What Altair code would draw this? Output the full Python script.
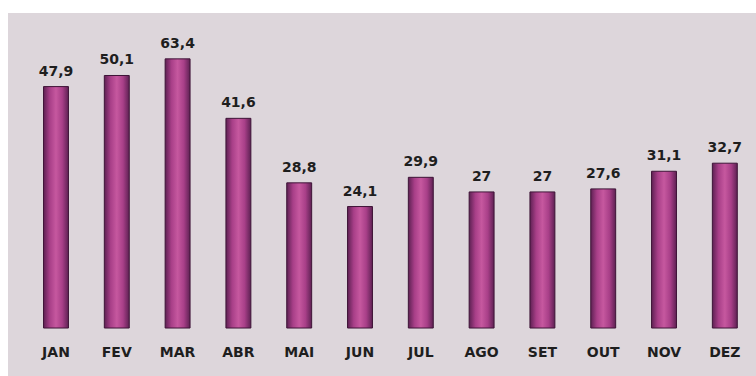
import altair as alt
import pandas as pd

months = ["JAN", "FEV", "MAR", "ABR", "MAI", "JUN", "JUL", "AGO", "SET", "OUT", "NOV", "DEZ"]
values = [47.9, 50.1, 53.4, 41.6, 28.8, 24.1, 29.9, 27.0, 27.0, 27.6, 31.1, 32.7]
labels = ["47,9", "50,1", "63,4", "41,6", "28,8", "24,1", "29,9", "27", "27", "27,6", "31,1", "32,7"]

df = pd.DataFrame({"mes": months, "valor": values, "rotulo": labels})

xscale = alt.Scale(domain=months, paddingInner=0.59, paddingOuter=0.446, align=0.655)
yscale = alt.Scale(domain=[-9.52, 62.5], nice=False, zero=False)

base = alt.Chart(df).encode(
    x=alt.X("mes:N", scale=xscale, axis=None, sort=months),
)

grad = alt.Gradient(
    gradient="linear", x1=0, x2=1, y1=0, y2=0,
    stops=[
        alt.GradientStop(color="#5e2153", offset=0),
        alt.GradientStop(color="#a83f88", offset=0.25),
        alt.GradientStop(color="#c6589f", offset=0.5),
        alt.GradientStop(color="#a83f88", offset=0.75),
        alt.GradientStop(color="#5e2153", offset=1),
    ],
)

bars = base.mark_bar(color=grad, stroke="#3e1437", strokeWidth=1).encode(
    y=alt.Y("valor:Q", scale=yscale, axis=None),
    y2=alt.datum(0),
)

vals = base.mark_text(
    font="DejaVu Sans", fontWeight="bold", fontSize=14, color="#1e1e1e",
    baseline="bottom", dy=-8,
).encode(
    y=alt.Y("valor:Q", scale=yscale),
    text="rotulo:N",
)

mes_txt = base.mark_text(
    font="DejaVu Sans", fontWeight="bold", fontSize=14, color="#1e1e1e",
    baseline="middle",
).encode(
    y=alt.datum(-4.9, scale=yscale),
    text="mes:N",
)

chart = (
    alt.layer(bars, vals, mes_txt)
    .properties(
        width=748, height=363,
        autosize=alt.AutoSizeParams(type="none"),
        padding={"left": 8, "top": 13, "right": 0, "bottom": 0},
        background="white",
    )
    .configure_view(fill="#ddd6db", stroke=None)
)

chart.save("out.html", embed_options={"renderer": "svg", "actions": False})
